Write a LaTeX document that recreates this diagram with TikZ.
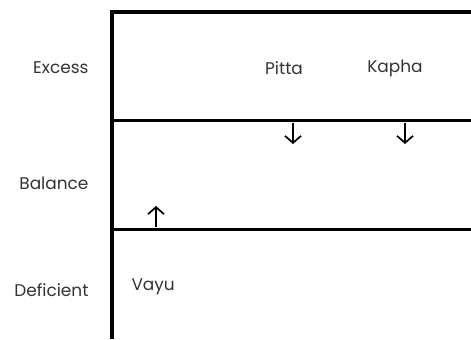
\documentclass[tikz,border=0pt]{standalone}
\usepackage{fontspec}
\setmainfont{Poppins}
\usetikzlibrary{arrows.meta}
\begin{document}
\begin{tikzpicture}[x=1bp,y=-1bp,
  rowlabel/.style={anchor=east,font=\fontsize{17}{19}\selectfont,text=black!80},
  dosha/.style={anchor=center,font=\fontsize{17}{19}\selectfont,text=black!80},
  frame/.style={line width=3.4bp},
  divider/.style={line width=3bp},
  movearrow/.style={line width=1.7bp,-{Straight Barb[length=7bp,width=16bp]}}]
\useasboundingbox (0,0) rectangle (471,339);
\coordinate (tl) at (112,12);
\coordinate (tr) at (471,12);
\coordinate (bl) at (112,339);
\coordinate (m1l) at (112,120);
\coordinate (m1r) at (471,120);
\coordinate (m2l) at (112,229);
\coordinate (m2r) at (471,229);
\draw[frame] (bl) -- (tl) -- (tr);
\draw[divider] (m1l) -- (m1r);
\draw[divider] (m2l) -- (m2r);
\node[rowlabel] (excess) at (92,68) {Excess};
\node[rowlabel] (balance) at (92,183) {Balance};
\node[rowlabel] (deficient) at (92,290) {Deficient};
\node[dosha] (pitta) at (284,68) {Pitta};
\node[dosha] (kapha) at (395,68) {Kapha};
\node[dosha,anchor=west] (vayu) at (128,287) {Vayu};
\coordinate (p1) at (293,123);
\coordinate (p2) at (293,144);
\coordinate (k1) at (405,123);
\coordinate (k2) at (405,144);
\coordinate (v1) at (156,227);
\coordinate (v2) at (156,206);
\draw[movearrow] (p1) -- (p2);
\draw[movearrow] (k1) -- (k2);
\draw[movearrow] (v1) -- (v2);
\end{tikzpicture}
\end{document}
